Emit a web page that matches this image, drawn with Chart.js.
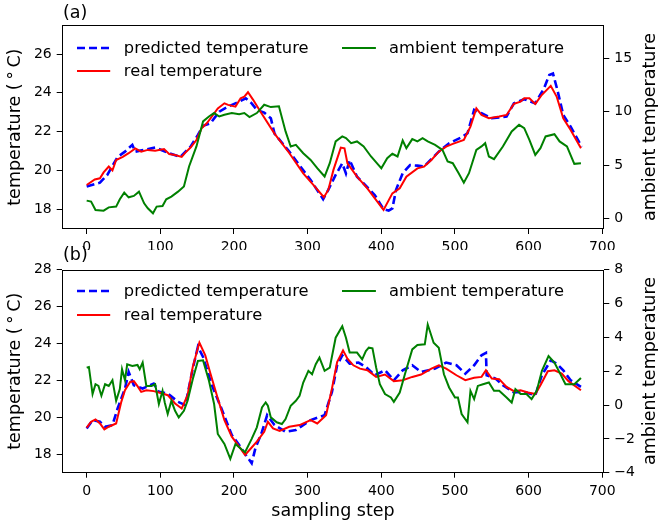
<!DOCTYPE html>
<html>
<head>
<meta charset="utf-8">
<script src="https://cdn.jsdelivr.net/npm/chart.js@4.4.1/dist/chart.umd.min.js"></script>
<style>
  html, body { margin: 0; padding: 0; background: #fff; }
  #wrap { position: relative; width: 658px; height: 528px; background: #fff; overflow: hidden; font-family: "DejaVu Sans", sans-serif; color: #000; }
  .panel { position: absolute; left: 0; width: 658px; }
  .ov { position: absolute; white-space: nowrap; line-height: 20px; }
  .rot { position: absolute; white-space: nowrap; transform: translate(-50%, -50%) rotate(-90deg); font-size: 17.5px; line-height: 20px; }
</style>
</head>
<body>
<div id="wrap">
  <div class="panel" style="top:0;height:250px"><canvas id="ca"></canvas></div>
  <div class="panel" style="top:250px;height:278px"><canvas id="cb"></canvas></div>
</div>
<script>
// ---------------- data ----------------
const xTicks = [0, 100, 200, 300, 400, 500, 600, 700];
const aLeftTicks = [18, 20, 22, 24, 26];
const aRightTicks = [0, 5, 10, 15];
const bLeftTicks = [18, 20, 22, 24, 26, 28];
const bRightTicks = [-4, -2, 0, 2, 4, 6, 8];

const seriesLabels = ["predicted temperature", "real temperature", "ambient temperature"];
const panelLabels = ["(a)", "(b)"];
const leftTitle = "temperature (\u2009\u00B0\u2009C)";
const rightTitle = "ambient temperature";
const xTitle = "sampling step";

// panel (a)
const aPredX = [0,18,28,42,52,62,66,88,93,110,127,141,151,158,168,180,192,207,216,224,231,241,250,255,275,304,321,328,338,347,352,357,367,391,403,410,415,420,429,439,449,458,478,492,509,517,526,536,550,570,580,594,609,621,628,633,639,647,657,672];
const aPredY = [19.17,19.37,19.77,20.7,20.97,21.32,20.97,21.14,21.18,20.92,20.7,21.23,21.83,22.3,22.43,23.03,23.29,23.55,23.72,23.46,23.12,22.98,22.69,21.9,20.97,19.51,18.52,19.0,19.77,20.37,19.85,20.54,19.68,18.74,18.0,17.93,18.05,19.0,19.86,20.28,20.25,20.2,20.97,21.4,21.71,21.92,23.12,22.95,22.69,22.78,23.46,23.67,23.46,24.24,24.92,25.0,24.15,22.86,22.26,21.23];

const aRealX = [0,11,18,23,30,35,40,49,57,66,74,83,93,105,112,120,129,134,141,149,156,163,170,178,187,192,202,209,214,219,226,236,255,275,294,308,322,328,335,345,350,354,367,381,403,415,425,434,449,458,468,478,488,497,512,521,529,536,546,560,570,580,589,594,601,609,618,630,638,647,657,671];
const aRealY = [19.25,19.54,19.6,19.9,20.2,20.0,20.54,20.7,20.89,21.14,20.97,21.06,21.02,21.1,20.85,20.8,20.7,20.92,21.18,21.57,22.17,22.43,22.78,23.2,23.46,23.38,23.29,23.72,23.8,24.03,23.64,23.03,21.9,20.9,19.85,19.25,18.62,19.0,20.03,21.18,21.14,20.37,19.68,19.08,17.97,18.82,19.08,19.68,20.11,20.2,20.54,20.97,21.23,21.37,21.57,22.26,23.2,22.86,22.69,22.78,22.86,23.43,23.55,23.72,23.72,23.43,23.9,24.36,23.81,22.69,22.09,21.14];

const aAmbX = [0,6,12,23,30,40,45,51,57,64,71,78,83,90,95,103,108,115,124,132,139,149,158,166,173,180,187,197,207,214,221,231,241,250,261,270,277,284,294,304,313,323,330,338,347,352,359,367,376,386,396,400,408,415,422,429,434,442,449,456,463,473,483,490,497,505,512,519,529,536,541,546,553,565,577,587,594,601,609,616,623,635,642,652,662,671];
const aAmbY = [1.66,1.57,0.78,0.72,1.03,1.1,1.79,2.41,1.97,2.1,2.5,1.41,0.94,0.47,1.1,1.16,1.79,2.04,2.5,2.98,4.86,6.74,9.09,9.55,9.87,9.55,9.71,9.87,9.77,9.87,9.49,9.87,10.65,10.43,10.5,8.15,6.74,6.89,6.11,5.48,4.7,3.92,5.17,7.21,7.68,7.52,7.05,7.21,6.74,5.8,5.01,4.7,5.64,6.05,5.8,7.3,6.58,7.43,7.21,7.52,7.21,6.89,6.42,5.33,5.17,4.23,3.35,4.23,6.42,6.74,7.05,5.8,5.55,6.74,8.15,8.77,8.46,7.36,5.95,6.58,7.68,7.89,7.21,6.74,5.11,5.17];

// panel (b)
const bPredX = [0,8,18,25,35,42,52,57,64,76,91,98,110,124,134,144,151,158,170,182,197,207,216,224,229,238,245,255,270,284,304,323,333,340,347,357,369,379,391,405,417,429,442,454,473,488,502,514,526,536,542,543,555,565,580,594,609,618,630,638,647,657,671];
const bPredY = [19.4,19.85,19.76,19.49,19.58,20.48,21.56,22.46,21.74,21.56,21.83,21.38,21.29,20.84,20.66,22.64,23.82,23.27,21.74,20.57,19.04,18.5,17.96,17.51,18.32,19.22,20.12,19.58,19.22,19.31,19.85,20.12,21.38,22.82,23.36,22.91,22.97,22.73,22.28,22.55,22.01,22.55,22.82,22.46,22.64,22.97,22.82,22.37,22.82,23.36,23.49,22.28,22.1,21.74,21.35,21.38,21.2,22.28,23.09,22.91,22.55,22.01,21.65];

const bRealX = [0,6,12,18,24,30,40,47,52,59,64,69,74,81,91,103,110,120,129,137,144,153,161,168,178,187,197,207,215,221,231,241,246,253,262,275,289,304,313,325,333,340,348,354,362,371,381,393,405,417,429,442,454,468,478,488,502,514,526,536,542,550,560,570,580,589,599,609,616,626,635,645,654,671];
const bRealY = [19.44,19.76,19.89,19.67,19.35,19.49,19.67,20.84,21.47,21.92,21.96,21.69,21.38,21.47,21.42,21.29,21.2,20.75,20.48,21.2,22.73,24.05,23.36,22.37,21.02,19.85,18.95,18.41,17.96,18.23,18.68,19.22,19.76,19.4,19.26,19.49,19.58,19.85,19.67,20.12,21.56,23.0,23.63,23.18,22.82,22.64,22.55,22.19,22.32,21.96,22.01,22.19,22.32,22.64,22.82,22.64,22.28,22.01,22.14,22.19,22.55,22.1,22.07,21.65,21.42,21.47,21.35,21.26,21.74,22.5,22.55,22.37,21.96,21.47];

const bAmbX = [0,3,8,12,16,20,25,30,35,40,45,48,52,55,62,69,72,76,81,88,93,98,103,106,110,115,120,125,132,137,144,151,158,166,173,178,187,195,202,212,215,224,231,238,243,246,250,258,265,270,277,284,289,294,301,306,311,316,323,330,338,347,352,357,367,374,379,383,388,393,398,405,413,417,425,432,442,449,459,463,471,478,485,492,500,504,509,517,521,526,531,538,546,553,560,570,577,582,589,597,604,611,618,627,635,642,650,662,671];
const bAmbY = [2.21,2.25,0.65,1.23,1.13,0.55,1.23,1.13,1.47,0.25,0.94,2.12,1.47,2.41,2.31,2.37,2.12,2.51,1.13,1.13,1.23,0.06,0.84,0.15,-0.53,0.25,-0.34,-0.73,-0.34,0.25,1.53,2.61,2.64,1.43,0.06,-1.71,-2.3,-3.18,-2.3,-2.69,-2.79,-2.0,-1.32,-0.14,0.15,-0.04,-0.73,-1.02,-1.12,-0.83,-0.04,0.25,0.55,1.33,2.02,1.82,2.41,2.8,2.02,2.21,3.98,4.66,3.98,3.1,3.1,2.7,3.19,3.39,3.35,2.21,1.23,0.65,0.45,0.19,0.74,1.82,3.29,3.55,3.59,4.76,3.68,3.39,1.82,1.04,0.45,0.45,-0.53,-1.02,0.84,0.35,1.13,1.23,1.33,0.84,0.84,0.45,0.15,0.94,0.65,0.65,0.35,0.84,2.02,2.9,2.51,1.92,1.23,1.23,1.6];

// ---------------- helpers ----------------
const FONT = "DejaVu Sans";
const COLORS = { pred: "#0000ff", real: "#ff0000", amb: "#008000" };
const toPts = (xs, ys) => xs.map((x, i) => ({ x: x, y: ys[i] }));
const fmt = v => (v < 0 ? "\u2212" + Math.abs(v) : String(v));

const framePlugin = {
  id: "frame",
  afterDraw(chart) {
    const { ctx, chartArea: a } = chart;
    ctx.save();
    ctx.strokeStyle = "#000";
    ctx.lineWidth = 1;
    const l = Math.round(a.left) + 0.5, t = Math.round(a.top) + 0.5;
    const r = Math.round(a.right) - 0.5, b = Math.round(a.bottom) - 0.5;
    ctx.strokeRect(l, t, r - l, b - t);
    ctx.restore();
  }
};

function tickOpts(cb) {
  return { font: { family: FONT, size: 14 }, color: "#000", padding: 5, autoSkip: false, maxRotation: 0, minRotation: 0, callback: cb };
}
const gridOpts = { display: true, drawOnChartArea: false, drawTicks: true, tickLength: 5, color: "#000", lineWidth: 1 };

function makeChart(id, cfg) {
  const datasets = [
    { label: seriesLabels[2], data: toPts(cfg.ambX, cfg.ambY), yAxisID: "y1", borderColor: COLORS.amb, borderWidth: 2, order: 0 },
    { label: seriesLabels[1], data: toPts(cfg.realX, cfg.realY), yAxisID: "y", borderColor: COLORS.real, borderWidth: 2, order: 1 },
    { label: seriesLabels[0], data: toPts(cfg.predX, cfg.predY), yAxisID: "y", borderColor: COLORS.pred, borderWidth: 2.6, borderDash: [8, 4], order: 2 }
  ];
  datasets.forEach(d => { d.pointRadius = 0; d.tension = 0; d.fill = false; d.borderCapStyle = "butt"; });
  return new Chart(document.getElementById(id), {
    type: "line",
    data: { datasets },
    plugins: [framePlugin],
    options: {
      responsive: true, maintainAspectRatio: false, animation: false, devicePixelRatio: 1,
      layout: { padding: { top: cfg.padTop, left: 0, right: 0, bottom: 0 } },
      plugins: { legend: { display: false }, tooltip: { enabled: false } },
      scales: {
        x: {
          type: "linear", position: "bottom", min: -33.9, max: 702.7,
          afterBuildTicks: s => { s.ticks = xTicks.map(v => ({ value: v })); },
          afterFit: s => { s.height = cfg.xH; },
          ticks: tickOpts(v => fmt(v)), grid: gridOpts, border: { display: false },
          title: cfg.xTitle ? { display: true, text: xTitle, color: "#000", font: { family: FONT, size: 17.5 }, padding: { top: 0, bottom: 6 } } : { display: false }
        },
        y: {
          type: "linear", position: "left", min: cfg.lMin, max: cfg.lMax,
          afterBuildTicks: s => { s.ticks = cfg.lTicks.map(v => ({ value: v })); },
          afterFit: s => { s.width = 61.7; },
          ticks: tickOpts(v => fmt(v)), grid: gridOpts, border: { display: false },
          title: { display: true, text: leftTitle, color: "#000", font: { family: FONT, size: 17.5 }, padding: { top: 5, bottom: 0 } }
        },
        y1: {
          type: "linear", position: "right", min: cfg.rMin, max: cfg.rMax,
          afterBuildTicks: s => { s.ticks = cfg.rTicks.map(v => ({ value: v })); },
          afterFit: s => { s.width = 658 - 604.3; },
          ticks: tickOpts(v => fmt(v)), grid: gridOpts, border: { display: false }
        }
      }
    }
  });
}

makeChart("ca", {
  padTop: 25.3, xH: 21, xTitle: false,
  lMin: 16.985, lMax: 27.48, lTicks: aLeftTicks,
  rMin: -1.0, rMax: 18.1, rTicks: aRightTicks,
  predX: aPredX, predY: aPredY, realX: aRealX, realY: aRealY, ambX: aAmbX, ambY: aAmbY
});
makeChart("cb", {
  padTop: 19.7, xH: 55.3, xTitle: true,
  lMin: 17.0, lMax: 28.0, lTicks: bLeftTicks,
  rMin: -4, rMax: 8, rTicks: bRightTicks,
  predX: bPredX, predY: bPredY, realX: bRealX, realY: bRealY, ambX: bAmbX, ambY: bAmbY
});

// ---------------- overlays: panel tags, right titles, legends ----------------
const wrap = document.getElementById("wrap");
function addText(txt, left, cy, size) {
  const d = document.createElement("div");
  d.className = "ov";
  d.textContent = txt;
  d.style.left = left + "px";
  d.style.top = (cy - 10) + "px";
  d.style.fontSize = size + "px";
  wrap.appendChild(d);
}
function addRot(txt, cx, cy) {
  const d = document.createElement("div");
  d.className = "rot";
  d.textContent = txt;
  d.style.left = cx + "px";
  d.style.top = cy + "px";
  wrap.appendChild(d);
}
function addHandle(x1, x2, y, color, width, dash) {
  const ns = "http://www.w3.org/2000/svg";
  const svg = document.createElementNS(ns, "svg");
  svg.setAttribute("width", x2 - x1);
  svg.setAttribute("height", 8);
  svg.style.position = "absolute";
  svg.style.left = x1 + "px";
  svg.style.top = (y - 4) + "px";
  const ln = document.createElementNS(ns, "line");
  ln.setAttribute("x1", 0); ln.setAttribute("x2", x2 - x1);
  ln.setAttribute("y1", 4); ln.setAttribute("y2", 4);
  ln.setAttribute("stroke", color);
  ln.setAttribute("stroke-width", width);
  if (dash) ln.setAttribute("stroke-dasharray", dash);
  svg.appendChild(ln);
  wrap.appendChild(svg);
}
function addLegend(row1, row2) {
  addHandle(77.4, 110.6, row1, COLORS.pred, 2.6, "8 4");
  addText(seriesLabels[0], 123.8, row1, 16.3);
  addHandle(77.4, 110.6, row2, COLORS.real, 2, null);
  addText(seriesLabels[1], 123.8, row2, 16.3);
  addHandle(342.4, 376.3, row1, COLORS.amb, 2, null);
  addText(seriesLabels[2], 389.1, row1, 16.3);
}
addText(panelLabels[0], 63, 12, 17.5);
addText(panelLabels[1], 63, 254, 17.5);
addRot(rightTitle, 649, 127.2);
addRot(rightTitle, 649, 371.2);
addLegend(47.7, 71.2);
addLegend(291, 315);
</script>
</body>
</html>
